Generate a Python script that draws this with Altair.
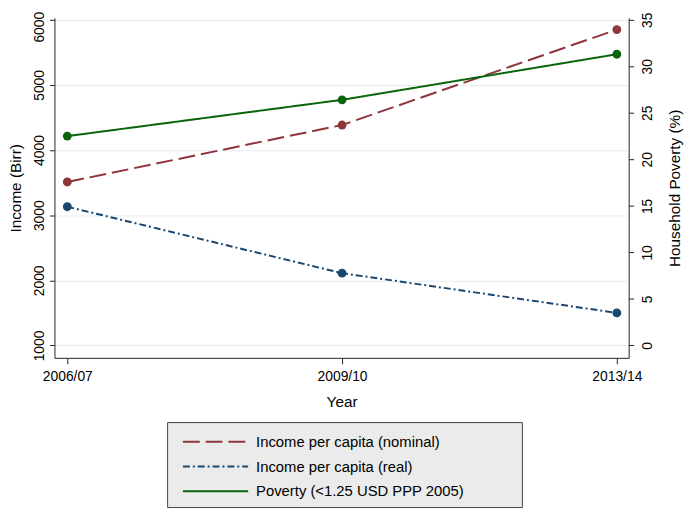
import altair as alt
import pandas as pd

years = ["2006/07", "2009/10", "2013/14"]
series_names = [
    "Income per capita (nominal)",
    "Income per capita (real)",
    "Poverty (<1.25 USD PPP 2005)",
]
nominal = [3510, 4385, 5850]
real = [3130, 2110, 1500]
poverty = [22.5, 26.4, 31.3]

colors = ["#90353b", "#1a476f", "#0a640a"]
dashes = [[17, 6], [7, 3, 2, 3], [1, 0]]

idx = list(range(len(years)))
df_inc = pd.DataFrame({
    "idx": idx * 2,
    "year": years * 2,
    "series": [series_names[0]] * 3 + [series_names[1]] * 3,
    "value": nominal + real,
})
df_pov = pd.DataFrame({
    "idx": idx,
    "year": years,
    "series": [series_names[2]] * 3,
    "value": poverty,
})

FONT = "Liberation Sans"
label_expr = "[" + ",".join("'" + y + "'" for y in years) + "][datum.value]"

x_enc = alt.X(
    "idx:Q",
    scale=alt.Scale(domain=[-0.0468, 2.043], nice=False, zero=False),
    axis=alt.Axis(
        values=idx, labelExpr=label_expr, title="Year", grid=False,
        tickSize=6, labelPadding=6, titlePadding=11,
        labelFontSize=14, titleFontSize=15.5, labelFont=FONT, titleFont=FONT,
        titleFontWeight="normal", labelColor="#000", titleColor="#000",
        domainColor="#222", tickColor="#222",
    ),
)

# invisible trailing padding so the legend box is as wide as the reference's
pad_spaces = "\u00a0" * 12 + "\u200b"
legend = alt.Legend(
    orient="none", legendX=114, legendY=409, title=None,
    symbolType="M-0.364,0H5.636", symbolSize=484, symbolStrokeWidth=2,
    labelOffset=58, labelFontSize=15, labelFont=FONT, labelColor="#000",
    labelLimit=600,
    fillColor="#ebebeb", strokeColor="#444", padding=8, rowPadding=5,
    labelExpr="datum.label + '" + pad_spaces + "'",
)

color_enc = alt.Color(
    "series:N", scale=alt.Scale(domain=series_names, range=colors), legend=legend
)
dash_enc = alt.StrokeDash(
    "series:N", scale=alt.Scale(domain=series_names, range=dashes), legend=legend
)
fill_enc = alt.Fill(
    "series:N", scale=alt.Scale(domain=series_names, range=colors), legend=None
)

y_left = alt.Y(
    "value:Q",
    scale=alt.Scale(domain=[810, 6030], nice=False, zero=False),
    axis=alt.Axis(
        values=[1000, 2000, 3000, 4000, 5000, 6000], title="Income (Birr)",
        format="d",
        labelAngle=270, labelAlign="center", labelBaseline="alphabetic",
        labelOffset={"condition": {"test": "datum.value >= 6000", "value": 7}, "value": 0},
        labelPadding=6, tickSize=5, grid=True, gridColor="#e6eef1",
        titlePadding=9, labelFontSize=14, titleFontSize=15.5,
        labelFont=FONT, titleFont=FONT, titleFontWeight="normal",
        labelColor="#000", titleColor="#000", domainColor="#222", tickColor="#222",
    ),
)
y_right = alt.Y(
    "value:Q",
    scale=alt.Scale(domain=[-1.33, 35.21], nice=False, zero=False),
    axis=alt.Axis(
        orient="right", values=[0, 5, 10, 15, 20, 25, 30, 35],
        title="Household Poverty (%)",
        labelAngle=270, labelAlign="center", labelBaseline="top",
        labelPadding=7, tickSize=5, grid=False,
        titleAngle=270, titleBaseline="top", titlePadding=13,
        labelFontSize=14, titleFontSize=15.5,
        labelFont=FONT, titleFont=FONT, titleFontWeight="normal",
        labelColor="#000", titleColor="#000", domainColor="#222", tickColor="#222",
    ),
)

inc_line = alt.Chart(df_inc).mark_line(strokeWidth=2).encode(
    x=x_enc, y=y_left, color=color_enc, strokeDash=dash_enc
)
inc_pts = alt.Chart(df_inc).mark_circle(size=80, opacity=1).encode(
    x=x_enc, y=y_left, fill=fill_enc
)
pov_line = alt.Chart(df_pov).mark_line(strokeWidth=2).encode(
    x=x_enc, y=y_right, color=color_enc, strokeDash=dash_enc
)
pov_pts = alt.Chart(df_pov).mark_circle(size=80, opacity=1).encode(
    x=x_enc, y=y_right, fill=fill_enc
)

left = alt.layer(inc_line, inc_pts)
right = alt.layer(pov_line, pov_pts)

chart = alt.layer(left, right).resolve_scale(y="independent").properties(
    width=581, height=344,
    padding={"left": 47, "top": 7, "right": 57, "bottom": 153},
    autosize=alt.AutoSizeParams(type="none"),
    background="white",
).configure_view(strokeWidth=0)

chart.save("out.html", embed_options={"renderer": "svg", "actions": False})
